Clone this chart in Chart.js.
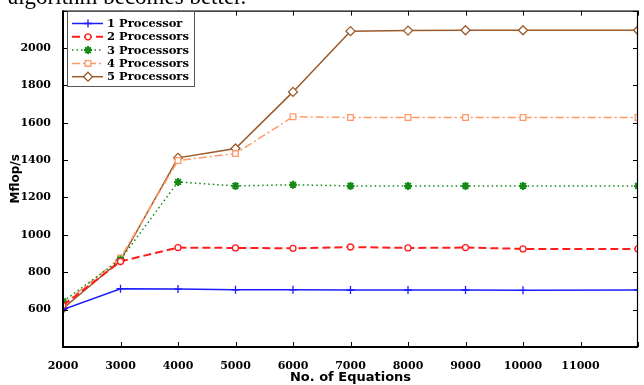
<!DOCTYPE html>
<html>
<head>
<meta charset="utf-8">
<script src="https://cdn.jsdelivr.net/npm/chart.js@4.4.0/dist/chart.umd.min.js"></script>
<style>
  html, body { margin: 0; padding: 0; background: #fff; }
  #wrap { position: relative; width: 644px; height: 385px; }
</style>
</head>
<body>
<div id="wrap"><canvas id="chart" width="644" height="385"></canvas></div>
<script>
// number of equations (no run at 11000)
const equations = [2000, 3000, 4000, 5000, 6000, 7000, 8000, 9000, 10000, 12000];

// Mflop/s per processor count
const proc1 = [600, 712, 710, 706, 706, 705, 705, 705, 703, 705];
const proc2 = [622, 858, 932, 930, 928, 935, 930, 932, 925, 925];
const proc3 = [644, 868, 1283, 1262, 1268, 1262, 1262, 1262, 1262, 1262];
const proc4 = [628, 877, 1398, 1435, 1632, 1628, 1628, 1628, 1628, 1628];
const proc5 = [606, 864, 1412, 1462, 1765, 2090, 2093, 2095, 2095, 2095];

const seriesLabels = ["1 Processor", "2 Processors", "3 Processors", "4 Processors", "5 Processors"];
const hiddenXTicks = [12000];
const hiddenYTicks = [400, 2200];

const caption = "algorithm becomes better.";

const toPoints = (ys) => equations.map((x, i) => ({ x, y: ys[i] }));

const styles = [
    { color: "#1c1cff", dash: [], point: "cross", radius: 4, width: 1.5 },
    { color: "#ff1c1c", dash: [8, 4], point: "circle", radius: 3, width: 2 },
    { color: "#168a16", dash: [1.5, 3], point: "star", radius: 4, width: 1.5 },
    { color: "#ff9a68", dash: [8, 3, 2, 3], point: "rect", radius: 4, width: 1.5 },
    { color: "#9a5a2a", dash: [], point: "rectRot", radius: 4.5, width: 1.5 },
];

const datasets = [proc1, proc2, proc3, proc4, proc5].map((ys, i) => ({
    label: seriesLabels[i],
    data: toPoints(ys),
    borderColor: styles[i].color,
    backgroundColor: "#ffffff",
    borderWidth: styles[i].width,
    borderDash: styles[i].dash,
    pointStyle: styles[i].point,
    pointRadius: styles[i].radius,
    pointBorderColor: styles[i].color,
    pointBackgroundColor: styles[i].point === "star" ? styles[i].color : "#ffffff",
    pointBorderWidth: styles[i].point === "star" ? 2 : 1.3,
    tension: 0,
}));

// matlab-like frame, inward ticks, boxed legend and clipped caption
const decorPlugin = {
    id: "decor",
    afterDraw(chart) {
        const { ctx, chartArea: a, scales } = chart;
        ctx.save();

        ctx.fillStyle = "#000";
        ctx.font = "23px 'Liberation Serif', serif";
        ctx.textBaseline = "alphabetic";
        ctx.fillText(caption, 8, 4);

        ctx.strokeStyle = "#000";
        ctx.lineWidth = 1;
        ctx.setLineDash([]);
        const tick = 5;
        scales.x.ticks.forEach((t) => {
            const px = Math.round(scales.x.getPixelForValue(t.value)) + 0.5;
            ctx.beginPath();
            ctx.moveTo(px, a.bottom);
            ctx.lineTo(px, a.bottom - tick);
            ctx.moveTo(px, a.top);
            ctx.lineTo(px, a.top + tick);
            ctx.stroke();
        });
        scales.y.ticks.forEach((t) => {
            const py = Math.round(scales.y.getPixelForValue(t.value)) + 0.5;
            ctx.beginPath();
            ctx.moveTo(a.left, py);
            ctx.lineTo(a.left + tick, py);
            ctx.moveTo(a.right, py);
            ctx.lineTo(a.right - tick, py);
            ctx.stroke();
        });

        ctx.lineWidth = 1.2;
        ctx.beginPath();
        ctx.moveTo(a.left, a.top + 0.5);
        ctx.lineTo(a.right, a.top + 0.5);
        ctx.moveTo(a.right - 0.5, a.top);
        ctx.lineTo(a.right - 0.5, a.bottom);
        ctx.stroke();
        ctx.lineWidth = 2;
        ctx.beginPath();
        ctx.moveTo(a.left, a.top);
        ctx.lineTo(a.left, a.bottom);
        ctx.lineTo(a.right, a.bottom);
        ctx.stroke();

        // legend
        const box = { x: 67.5, y: 11.5, w: 127, h: 75 };
        ctx.fillStyle = "#fff";
        ctx.fillRect(box.x, box.y, box.w, box.h);
        ctx.strokeStyle = "#555";
        ctx.lineWidth = 1;
        ctx.strokeRect(box.x, box.y, box.w, box.h);
        ctx.font = "bold 11.5px 'DejaVu Serif', serif";
        ctx.textBaseline = "middle";
        chart.data.datasets.forEach((ds, i) => {
            const y = 23.5 + i * 13.3;
            ctx.strokeStyle = ds.borderColor;
            ctx.lineWidth = ds.borderWidth;
            ctx.setLineDash(ds.borderDash);
            ctx.beginPath();
            ctx.moveTo(72, y);
            ctx.lineTo(103, y);
            ctx.stroke();
            ctx.setLineDash([]);
            ctx.lineWidth = ds.pointBorderWidth;
            ctx.fillStyle = ds.pointBackgroundColor;
            Chart.helpers.drawPoint(ctx, { pointStyle: ds.pointStyle, radius: ds.pointRadius, borderWidth: ds.pointBorderWidth, rotation: 0 }, 88, y);
            ctx.fillStyle = "#000";
            ctx.fillText(ds.label, 107, y + 0.5);
        });

        ctx.restore();
    },
};

const tickFont = { family: "'DejaVu Serif', serif", size: 11, weight: "bold" };

new Chart(document.getElementById("chart"), {
    type: "line",
    data: { datasets },
    options: {
        responsive: false,
        animation: false,
        layout: { padding: { left: 0, right: 1, top: 9, bottom: 0 } },
        plugins: {
            legend: { display: false },
            tooltip: { enabled: false },
        },
        scales: {
            x: {
                type: "linear",
                min: 2000,
                max: 12000,
                grid: { display: false },
                border: { display: false },
                ticks: {
                    stepSize: 1000,
                    color: "#000",
                    font: tickFont,
                    padding: 5,
                    maxRotation: 0,
                    autoSkip: false,
                    callback: (v) => (hiddenXTicks.includes(v) ? "" : String(v)),
                },
                title: {
                    display: true,
                    text: "No. of Equations",
                    color: "#000",
                    font: { family: "'DejaVu Sans', sans-serif", size: 13, weight: "bold" },
                    padding: { top: 0, bottom: 0 },
                },
                afterFit: (s) => { s.height = 38; },
            },
            y: {
                min: 400,
                max: 2200,
                grid: { display: false },
                border: { display: false },
                ticks: {
                    stepSize: 200,
                    color: "#000",
                    font: tickFont,
                    padding: 4,
                    autoSkip: false,
                    callback: (v) => (hiddenYTicks.includes(v) ? "" : String(v)),
                },
                title: {
                    display: true,
                    text: "Mflop/s",
                    color: "#000",
                    font: { family: "'DejaVu Sans', sans-serif", size: 12, weight: "bold" },
                    padding: { top: 9, bottom: 0 },
                },
                afterFit: (s) => { s.width = 63; },
            },
        },
    },
    plugins: [decorPlugin],
});
</script>
</body>
</html>
